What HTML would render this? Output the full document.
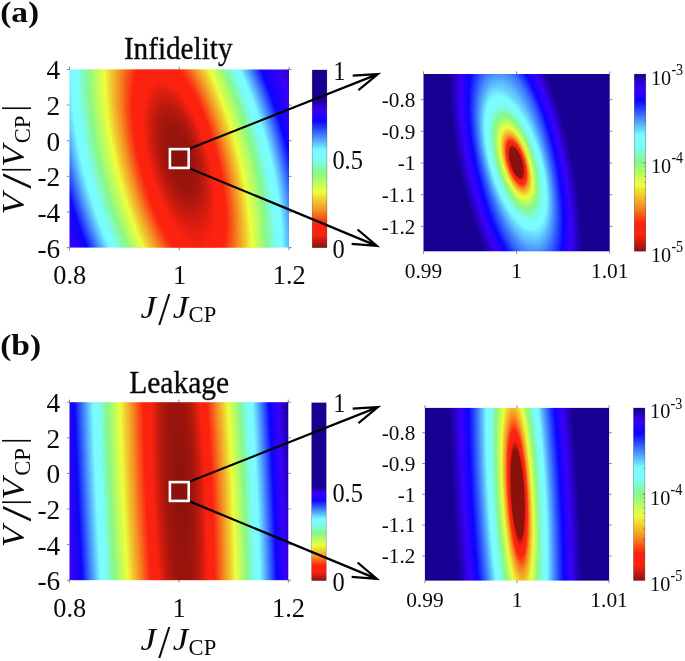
<!DOCTYPE html>
<html lang="en"><head><meta charset="utf-8"><title>Infidelity and leakage</title>
<style>html,body{margin:0;padding:0;background:#fff}body{width:685px;height:661px;overflow:hidden}svg{display:block}text{font-family:"Liberation Serif",serif;fill:#0a0a0a}.t{stroke:#0a0a0a;stroke-width:.35px}</style></head>
<body><svg width="685" height="661" viewBox="0 0 685 661">
<defs>
<radialGradient id="ga" gradientUnits="userSpaceOnUse" cx="-0.0450" cy="0" r="1" fx="0" fy="0" gradientTransform="matrix(200.000 0 97.128 426.000 180.90 163.00)"><stop offset="0.0000" stop-color="#8b120c"/><stop offset="0.0700" stop-color="#9e150d"/><stop offset="0.0946" stop-color="#b1170d"/><stop offset="0.1128" stop-color="#c41a0e"/><stop offset="0.1279" stop-color="#d61d0f"/><stop offset="0.1409" stop-color="#e91f0f"/><stop offset="0.1525" stop-color="#fc2210"/><stop offset="0.1766" stop-color="#fc2210"/><stop offset="0.1975" stop-color="#fc2210"/><stop offset="0.2260" stop-color="#f85819"/><stop offset="0.2514" stop-color="#f58e22"/><stop offset="0.2832" stop-color="#f1c62f"/><stop offset="0.3120" stop-color="#edff3c"/><stop offset="0.3520" stop-color="#bafc62"/><stop offset="0.3892" stop-color="#87f887"/><stop offset="0.4173" stop-color="#80fac3"/><stop offset="0.4442" stop-color="#7afcff"/><stop offset="0.4585" stop-color="#7afcff"/><stop offset="0.4739" stop-color="#7afcff"/><stop offset="0.5025" stop-color="#5cbbfe"/><stop offset="0.5300" stop-color="#3e7afc"/><stop offset="0.5528" stop-color="#2540fe"/><stop offset="0.5750" stop-color="#0c05ff"/><stop offset="0.6189" stop-color="#2302fc"/><stop offset="0.6619" stop-color="#3a00fa"/><stop offset="0.7100" stop-color="#2900c6"/><stop offset="0.7600" stop-color="#170091"/></radialGradient>
<radialGradient id="gai" gradientUnits="userSpaceOnUse" cx="-0.0450" cy="0" r="1" fx="0" fy="0" gradientTransform="matrix(200.000 0 125.400 550.000 180.90 163.00)"><stop offset="0.0000" stop-color="#8b120c"/><stop offset="0.0700" stop-color="#9e150d"/><stop offset="0.0946" stop-color="#b1170d"/><stop offset="0.1128" stop-color="#c41a0e"/><stop offset="0.1279" stop-color="#d61d0f"/><stop offset="0.1409" stop-color="#e91f0f"/><stop offset="0.1525" stop-color="#fc2210"/><stop offset="0.1766" stop-color="#fc2210"/><stop offset="0.1975" stop-color="#fc2210"/><stop offset="0.2260" stop-color="#f85819"/><stop offset="0.2514" stop-color="#f58e22"/><stop offset="0.2832" stop-color="#f1c62f"/><stop offset="0.3120" stop-color="#edff3c"/><stop offset="0.3520" stop-color="#bafc62" stop-opacity="0.727"/><stop offset="0.3892" stop-color="#87f887" stop-opacity="0.473"/><stop offset="0.4173" stop-color="#80fac3" stop-opacity="0.281"/><stop offset="0.4442" stop-color="#7afcff" stop-opacity="0.0976"/><stop offset="0.4585" stop-color="#7afcff" stop-opacity="0"/></radialGradient>
<radialGradient id="gaii" gradientUnits="userSpaceOnUse" cx="-0.0450" cy="0" r="1" fx="0" fy="0" gradientTransform="matrix(200.000 0 111.720 490.000 179.90 158.00)"><stop offset="0.0000" stop-color="#8b120c"/><stop offset="0.0700" stop-color="#9e150d"/><stop offset="0.0946" stop-color="#b1170d"/><stop offset="0.1128" stop-color="#c41a0e" stop-opacity="0.965"/><stop offset="0.1279" stop-color="#d61d0f" stop-opacity="0.777"/><stop offset="0.1409" stop-color="#e91f0f" stop-opacity="0.614"/><stop offset="0.1525" stop-color="#fc2210" stop-opacity="0.469"/><stop offset="0.1766" stop-color="#fc2210" stop-opacity="0.168"/><stop offset="0.1900" stop-color="#fc2210" stop-opacity="0"/></radialGradient>
<radialGradient id="gb" gradientUnits="userSpaceOnUse" cx="-0.0530" cy="0" r="1" fx="0" fy="0" gradientTransform="matrix(200.000 0 79.200 1800.000 180.70 491.00)"><stop offset="0.0000" stop-color="#8b120c"/><stop offset="0.0616" stop-color="#9e150d"/><stop offset="0.0823" stop-color="#b1170d"/><stop offset="0.0974" stop-color="#c41a0e"/><stop offset="0.1098" stop-color="#d61d0f"/><stop offset="0.1205" stop-color="#e91f0f"/><stop offset="0.1300" stop-color="#fc2210"/><stop offset="0.1487" stop-color="#fc2210"/><stop offset="0.1650" stop-color="#fc2210"/><stop offset="0.1921" stop-color="#f85819"/><stop offset="0.2163" stop-color="#f58e22"/><stop offset="0.2466" stop-color="#f1c62f"/><stop offset="0.2740" stop-color="#edff3c"/><stop offset="0.3051" stop-color="#bafc62"/><stop offset="0.3341" stop-color="#87f887"/><stop offset="0.3560" stop-color="#80fac3"/><stop offset="0.3769" stop-color="#7afcff"/><stop offset="0.3880" stop-color="#7afcff"/><stop offset="0.4013" stop-color="#7afcff"/><stop offset="0.4260" stop-color="#5cbbfe"/><stop offset="0.4498" stop-color="#3e7afc"/><stop offset="0.4696" stop-color="#2540fe"/><stop offset="0.4888" stop-color="#0c05ff"/><stop offset="0.5131" stop-color="#2302fc"/><stop offset="0.5370" stop-color="#3a00fa"/><stop offset="0.5638" stop-color="#2900c6"/><stop offset="0.5900" stop-color="#170091"/></radialGradient>
<radialGradient id="gc" gradientUnits="userSpaceOnUse" cx="-0.0400" cy="0" r="1" fx="0" fy="0" gradientTransform="matrix(120.000 0 70.800 354.000 517.70 162.50)"><stop offset="0.0000" stop-color="#8b120c"/><stop offset="0.0479" stop-color="#8b120c"/><stop offset="0.0513" stop-color="#b1170d"/><stop offset="0.0550" stop-color="#d61d0f"/><stop offset="0.0590" stop-color="#fc2210"/><stop offset="0.0622" stop-color="#fc2210"/><stop offset="0.0656" stop-color="#fc2210"/><stop offset="0.0693" stop-color="#fc2210"/><stop offset="0.0742" stop-color="#fa4616"/><stop offset="0.0795" stop-color="#f76a1c"/><stop offset="0.0852" stop-color="#f58e22"/><stop offset="0.0938" stop-color="#f2b42b"/><stop offset="0.1032" stop-color="#f0d933"/><stop offset="0.1136" stop-color="#edff3c"/><stop offset="0.1251" stop-color="#cbfd55"/><stop offset="0.1377" stop-color="#a9fa6e"/><stop offset="0.1515" stop-color="#87f887"/><stop offset="0.1636" stop-color="#83f9af"/><stop offset="0.1767" stop-color="#7efbd7"/><stop offset="0.1908" stop-color="#7afcff"/><stop offset="0.1990" stop-color="#7afcff"/><stop offset="0.2076" stop-color="#7afcff"/><stop offset="0.2165" stop-color="#7afcff"/><stop offset="0.2347" stop-color="#66d1fe"/><stop offset="0.2544" stop-color="#52a5fd"/><stop offset="0.2757" stop-color="#3e7afc"/><stop offset="0.2955" stop-color="#2d53fd"/><stop offset="0.3166" stop-color="#1d2cfe"/><stop offset="0.3392" stop-color="#0c05ff"/><stop offset="0.3579" stop-color="#1b03fd"/><stop offset="0.3777" stop-color="#2b02fc"/><stop offset="0.3986" stop-color="#3a00fa"/><stop offset="0.4238" stop-color="#2e00d7"/><stop offset="0.4506" stop-color="#2300b4"/><stop offset="0.4792" stop-color="#170091"/></radialGradient>
<radialGradient id="gci" gradientUnits="userSpaceOnUse" cx="-0.0400" cy="0" r="1" fx="0" fy="0" gradientTransform="matrix(120.000 0 77.100 308.400 516.60 162.50)"><stop offset="0.0000" stop-color="#8b120c"/><stop offset="0.0479" stop-color="#8b120c"/><stop offset="0.0513" stop-color="#b1170d"/><stop offset="0.0550" stop-color="#d61d0f"/><stop offset="0.0590" stop-color="#fc2210"/><stop offset="0.0622" stop-color="#fc2210"/><stop offset="0.0656" stop-color="#fc2210"/><stop offset="0.0693" stop-color="#fc2210"/><stop offset="0.0742" stop-color="#fa4616"/><stop offset="0.0795" stop-color="#f76a1c"/><stop offset="0.0852" stop-color="#f58e22"/><stop offset="0.0938" stop-color="#f2b42b"/><stop offset="0.1032" stop-color="#f0d933"/><stop offset="0.1136" stop-color="#edff3c"/><stop offset="0.1251" stop-color="#cbfd55"/><stop offset="0.1377" stop-color="#a9fa6e"/><stop offset="0.1515" stop-color="#87f887"/><stop offset="0.1636" stop-color="#83f9af"/><stop offset="0.1767" stop-color="#7efbd7"/><stop offset="0.1908" stop-color="#7afcff"/><stop offset="0.1990" stop-color="#7afcff"/><stop offset="0.2076" stop-color="#7afcff" stop-opacity="0.967"/><stop offset="0.2165" stop-color="#7afcff" stop-opacity="0.899"/><stop offset="0.2347" stop-color="#66d1fe" stop-opacity="0.759"/><stop offset="0.2544" stop-color="#52a5fd" stop-opacity="0.607"/><stop offset="0.2757" stop-color="#3e7afc" stop-opacity="0.443"/><stop offset="0.2955" stop-color="#2d53fd" stop-opacity="0.291"/><stop offset="0.3166" stop-color="#1d2cfe" stop-opacity="0.129"/><stop offset="0.3333" stop-color="#1d2cfe" stop-opacity="0"/></radialGradient>
<radialGradient id="gd" gradientUnits="userSpaceOnUse" cx="-0.0400" cy="0" r="1" fx="0" fy="0" gradientTransform="matrix(120.000 0 45.540 828.000 517.90 493.50)"><stop offset="0.0000" stop-color="#8b120c"/><stop offset="0.0525" stop-color="#8b120c"/><stop offset="0.0563" stop-color="#b1170d"/><stop offset="0.0603" stop-color="#d61d0f"/><stop offset="0.0646" stop-color="#fc2210"/><stop offset="0.0682" stop-color="#fc2210"/><stop offset="0.0719" stop-color="#fc2210"/><stop offset="0.0759" stop-color="#fc2210"/><stop offset="0.0813" stop-color="#fa4616"/><stop offset="0.0871" stop-color="#f76a1c"/><stop offset="0.0934" stop-color="#f58e22"/><stop offset="0.1028" stop-color="#f2b42b"/><stop offset="0.1131" stop-color="#f0d933"/><stop offset="0.1245" stop-color="#edff3c"/><stop offset="0.1370" stop-color="#cbfd55"/><stop offset="0.1508" stop-color="#a9fa6e"/><stop offset="0.1660" stop-color="#87f887"/><stop offset="0.1793" stop-color="#83f9af"/><stop offset="0.1936" stop-color="#7efbd7"/><stop offset="0.2090" stop-color="#7afcff"/><stop offset="0.2180" stop-color="#7afcff"/><stop offset="0.2274" stop-color="#7afcff"/><stop offset="0.2372" stop-color="#7afcff"/><stop offset="0.2571" stop-color="#66d1fe"/><stop offset="0.2787" stop-color="#52a5fd"/><stop offset="0.3021" stop-color="#3e7afc"/><stop offset="0.3237" stop-color="#2d53fd"/><stop offset="0.3469" stop-color="#1d2cfe"/><stop offset="0.3717" stop-color="#0c05ff"/><stop offset="0.3922" stop-color="#1b03fd"/><stop offset="0.4138" stop-color="#2b02fc"/><stop offset="0.4367" stop-color="#3a00fa"/><stop offset="0.4643" stop-color="#2e00d7"/><stop offset="0.4937" stop-color="#2300b4"/><stop offset="0.5250" stop-color="#170091"/></radialGradient>
<linearGradient id="ca" x1="0" y1="0" x2="0" y2="1"><stop offset="0.1630" stop-color="#170091"/><stop offset="0.2300" stop-color="#3a00fa"/><stop offset="0.2886" stop-color="#0c05ff"/><stop offset="0.3639" stop-color="#3e7afc"/><stop offset="0.4518" stop-color="#7afcff"/><stop offset="0.4978" stop-color="#7afcff"/><stop offset="0.5815" stop-color="#87f887"/><stop offset="0.6861" stop-color="#edff3c"/><stop offset="0.7908" stop-color="#f58e22"/><stop offset="0.8661" stop-color="#fc2210"/><stop offset="0.9247" stop-color="#fc2210"/><stop offset="1.0000" stop-color="#8b120c"/></linearGradient>
<linearGradient id="cb" x1="0" y1="0" x2="0" y2="1"><stop offset="0.4700" stop-color="#170091"/><stop offset="0.5124" stop-color="#3a00fa"/><stop offset="0.5495" stop-color="#0c05ff"/><stop offset="0.5972" stop-color="#3e7afc"/><stop offset="0.6528" stop-color="#7afcff"/><stop offset="0.6820" stop-color="#7afcff"/><stop offset="0.7350" stop-color="#87f887"/><stop offset="0.8013" stop-color="#edff3c"/><stop offset="0.8675" stop-color="#f58e22"/><stop offset="0.9152" stop-color="#fc2210"/><stop offset="0.9523" stop-color="#fc2210"/><stop offset="1.0000" stop-color="#8b120c"/></linearGradient>
<linearGradient id="cc" x1="0" y1="0" x2="0" y2="1"><stop offset="0.0000" stop-color="#170091"/><stop offset="0.0800" stop-color="#3a00fa"/><stop offset="0.1500" stop-color="#0c05ff"/><stop offset="0.2400" stop-color="#3e7afc"/><stop offset="0.3450" stop-color="#7afcff"/><stop offset="0.4000" stop-color="#7afcff"/><stop offset="0.5000" stop-color="#87f887"/><stop offset="0.6250" stop-color="#edff3c"/><stop offset="0.7500" stop-color="#f58e22"/><stop offset="0.8400" stop-color="#fc2210"/><stop offset="0.9100" stop-color="#fc2210"/><stop offset="1.0000" stop-color="#8b120c"/></linearGradient>
<linearGradient id="cd" x1="0" y1="0" x2="0" y2="1"><stop offset="0.0000" stop-color="#170091"/><stop offset="0.0800" stop-color="#3a00fa"/><stop offset="0.1500" stop-color="#0c05ff"/><stop offset="0.2400" stop-color="#3e7afc"/><stop offset="0.3450" stop-color="#7afcff"/><stop offset="0.4000" stop-color="#7afcff"/><stop offset="0.5000" stop-color="#87f887"/><stop offset="0.6250" stop-color="#edff3c"/><stop offset="0.7500" stop-color="#f58e22"/><stop offset="0.8400" stop-color="#fc2210"/><stop offset="0.9100" stop-color="#fc2210"/><stop offset="1.0000" stop-color="#8b120c"/></linearGradient>
</defs>
<rect x="69.50" y="69.50" width="219.50" height="178.10" fill="url(#ga)"/>
<rect x="69.50" y="69.50" width="219.50" height="178.10" fill="url(#gai)"/>
<rect x="69.50" y="69.50" width="219.50" height="178.10" fill="url(#gaii)"/>
<rect x="423.50" y="74.00" width="186.20" height="177.30" fill="url(#gc)"/>
<rect x="423.50" y="74.00" width="186.20" height="177.30" fill="url(#gci)"/>
<rect x="69.50" y="402.20" width="218.80" height="178.00" fill="url(#gb)"/>
<rect x="424.90" y="407.90" width="184.20" height="172.70" fill="url(#gd)"/>
<path d="M69.50 247.60v2.60M69.50 69.50v-2.60M179.25 247.60v2.60M179.25 69.50v-2.60M289.00 247.60v2.60M289.00 69.50v-2.60M69.50 69.50h-2.60M289.00 69.50h2.60M69.50 105.12h-2.60M289.00 105.12h2.60M69.50 140.74h-2.60M289.00 140.74h2.60M69.50 176.36h-2.60M289.00 176.36h2.60M69.50 211.98h-2.60M289.00 211.98h2.60M69.50 247.60h-2.60M289.00 247.60h2.60" stroke="#555" stroke-width="0.7" fill="none"/>
<path d="M423.50 251.30v2.60M423.50 74.00v-2.60M516.60 251.30v2.60M516.60 74.00v-2.60M609.70 251.30v2.60M609.70 74.00v-2.60M423.50 99.60h-2.60M609.70 99.60h2.60M423.50 131.30h-2.60M609.70 131.30h2.60M423.50 163.00h-2.60M609.70 163.00h2.60M423.50 194.70h-2.60M609.70 194.70h2.60M423.50 226.40h-2.60M609.70 226.40h2.60" stroke="#555" stroke-width="0.7" fill="none"/>
<path d="M69.50 580.20v2.60M69.50 402.20v-2.60M178.90 580.20v2.60M178.90 402.20v-2.60M288.30 580.20v2.60M288.30 402.20v-2.60M69.50 402.20h-2.60M288.30 402.20h2.60M69.50 437.80h-2.60M288.30 437.80h2.60M69.50 473.40h-2.60M288.30 473.40h2.60M69.50 509.00h-2.60M288.30 509.00h2.60M69.50 544.60h-2.60M288.30 544.60h2.60M69.50 580.20h-2.60M288.30 580.20h2.60" stroke="#555" stroke-width="0.7" fill="none"/>
<path d="M424.90 580.60v2.60M424.90 407.90v-2.60M517.00 580.60v2.60M517.00 407.90v-2.60M609.10 580.60v2.60M609.10 407.90v-2.60M424.90 432.70h-2.60M609.10 432.70h2.60M424.90 463.50h-2.60M609.10 463.50h2.60M424.90 494.30h-2.60M609.10 494.30h2.60M424.90 525.10h-2.60M609.10 525.10h2.60M424.90 555.90h-2.60M609.10 555.90h2.60" stroke="#555" stroke-width="0.7" fill="none"/>
<rect x="312.20" y="70.00" width="14.70" height="177.70" fill="url(#ca)" stroke="#000" stroke-opacity="0.4" stroke-width="0.6"/>
<rect x="311.70" y="402.80" width="14.50" height="177.80" fill="url(#cb)" stroke="#000" stroke-opacity="0.4" stroke-width="0.6"/>
<rect x="634.30" y="74.10" width="11.50" height="177.10" fill="url(#cc)" stroke="#000" stroke-opacity="0.4" stroke-width="0.6"/>
<rect x="633.50" y="408.00" width="11.40" height="172.50" fill="url(#cd)" stroke="#000" stroke-opacity="0.4" stroke-width="0.6"/>
<path d="M645.80 224.54h-1.20M645.80 208.95h-1.20M645.80 197.89h-1.20M645.80 189.31h-1.20M645.80 182.29h-1.20M645.80 176.37h-1.20M645.80 171.23h-1.20M645.80 166.70h-1.20M645.80 162.65h-2.20M645.80 135.99h-1.20M645.80 120.40h-1.20M645.80 109.34h-1.20M645.80 100.76h-1.20M645.80 93.74h-1.20M645.80 87.82h-1.20M645.80 82.68h-1.20M645.80 78.15h-1.20" stroke="#444" stroke-width="0.6" fill="none"/>
<path d="M644.90 554.54h-1.20M644.90 539.35h-1.20M644.90 528.57h-1.20M644.90 520.21h-1.20M644.90 513.38h-1.20M644.90 507.61h-1.20M644.90 502.61h-1.20M644.90 498.20h-1.20M644.90 494.25h-2.20M644.90 468.29h-1.20M644.90 453.10h-1.20M644.90 442.32h-1.20M644.90 433.96h-1.20M644.90 427.13h-1.20M644.90 421.36h-1.20M644.90 416.36h-1.20M644.90 411.95h-1.20" stroke="#444" stroke-width="0.6" fill="none"/>
<path d="M189.20 148.80L377.90 74.10M358.46 90.19L377.90 74.10L352.71 75.68" stroke="#000" stroke-width="2.25" fill="none" stroke-linejoin="miter" stroke-miterlimit="10"/>
<path d="M189.20 168.20L376.80 245.90M351.64 243.92L376.80 245.90L357.61 229.51" stroke="#000" stroke-width="2.25" fill="none" stroke-linejoin="miter" stroke-miterlimit="10"/>
<rect x="169.90" y="149.10" width="18.80" height="18.80" fill="#8b120c" stroke="#fff" stroke-width="2.6"/>
<path d="M189.20 481.80L377.90 407.10M358.46 423.19L377.90 407.10L352.71 408.68" stroke="#000" stroke-width="2.25" fill="none" stroke-linejoin="miter" stroke-miterlimit="10"/>
<path d="M189.20 501.20L376.80 578.90M351.64 576.92L376.80 578.90L357.61 562.51" stroke="#000" stroke-width="2.25" fill="none" stroke-linejoin="miter" stroke-miterlimit="10"/>
<rect x="169.90" y="482.10" width="18.80" height="18.80" fill="#8b120c" stroke="#fff" stroke-width="2.6"/>
<text transform="translate(60.20 79.40) scale(1.040 1)" font-size="26.30" text-anchor="end">4</text>
<text transform="translate(60.20 115.02) scale(1.040 1)" font-size="26.30" text-anchor="end">2</text>
<text transform="translate(60.20 150.64) scale(1.040 1)" font-size="26.30" text-anchor="end">0</text>
<text transform="translate(60.20 186.26) scale(1.040 1)" font-size="26.30" text-anchor="end">-2</text>
<text transform="translate(60.20 221.88) scale(1.040 1)" font-size="26.30" text-anchor="end">-4</text>
<text transform="translate(60.20 257.50) scale(1.040 1)" font-size="26.30" text-anchor="end">-6</text>
<text transform="translate(69.70 284.40) scale(0.940 1)" font-size="28.00" text-anchor="middle">0.8</text>
<text transform="translate(179.45 284.40) scale(0.940 1)" font-size="28.00" text-anchor="middle">1</text>
<text transform="translate(289.20 284.40) scale(0.940 1)" font-size="28.00" text-anchor="middle">1.2</text>
<text transform="translate(333.20 79.60) scale(0.930 1)" font-size="26.30" text-anchor="start">1</text>
<text transform="translate(332.40 169.40) scale(0.930 1)" font-size="26.30" text-anchor="start">0.5</text>
<text transform="translate(332.40 258.00) scale(0.930 1)" font-size="26.30" text-anchor="start">0</text>
<text x="0.00" y="0.00" font-size="31.00" text-anchor="start" style="font-style:italic" transform="translate(140.6 317.50) scale(1.13 1.02)">J</text>
<text x="0.00" y="0.00" font-size="30.00" text-anchor="start" transform="translate(158.3 325.10) scale(1.45 1.53)">/</text>
<text x="0.00" y="0.00" font-size="31.00" text-anchor="start" style="font-style:italic" transform="translate(172.8 317.50) scale(1.13 1.02)">J</text>
<text x="188.60" y="322.30" font-size="22.60" text-anchor="start">CP</text>
<g transform="translate(23.6 213.00) rotate(-90)">
<text x="0.00" y="0.00" font-size="31.00" text-anchor="start" style="font-style:italic" transform="translate(-1.5 0) scale(1.13 1)">V</text>
<text x="0.00" y="0.00" font-size="30.00" text-anchor="start" transform="translate(24.2 7.0) scale(1.85 1.43)">/</text>
<text x="40.10" y="0.10" font-size="32.60" text-anchor="start">|</text>
<text x="47.50" y="0.00" font-size="31.00" text-anchor="start" style="font-style:italic" transform="translate(-7.5 0) scale(1.13 1)">V</text>
<text x="69.80" y="6.30" font-size="22.60" text-anchor="start">CP</text>
<text x="101.60" y="0.10" font-size="32.60" text-anchor="start">|</text>
</g>
<text transform="translate(415.30 106.90) scale(1.040 1)" font-size="20.40" text-anchor="end">-0.8</text>
<text transform="translate(415.30 138.60) scale(1.040 1)" font-size="20.40" text-anchor="end">-0.9</text>
<text transform="translate(415.30 170.30) scale(1.040 1)" font-size="20.40" text-anchor="end">-1</text>
<text transform="translate(415.30 202.00) scale(1.040 1)" font-size="20.40" text-anchor="end">-1.1</text>
<text transform="translate(415.30 233.70) scale(1.040 1)" font-size="20.40" text-anchor="end">-1.2</text>
<text transform="translate(423.50 278.10) scale(1.050 1)" font-size="20.40" text-anchor="middle">0.99</text>
<text transform="translate(516.60 278.10) scale(1.050 1)" font-size="20.40" text-anchor="middle">1</text>
<text transform="translate(609.70 278.10) scale(1.050 1)" font-size="20.40" text-anchor="middle">1.01</text>
<text x="651.00" y="84.50" font-size="20.2">10</text>
<text transform="translate(671.40 74.80) scale(0.900 1)" font-size="15.70" text-anchor="start">-3</text>
<text x="651.00" y="173.05" font-size="20.2">10</text>
<text transform="translate(671.40 163.35) scale(0.900 1)" font-size="15.70" text-anchor="start">-4</text>
<text x="651.00" y="261.60" font-size="20.2">10</text>
<text transform="translate(671.40 251.90) scale(0.900 1)" font-size="15.70" text-anchor="start">-5</text>
<text transform="translate(60.20 412.10) scale(1.040 1)" font-size="26.30" text-anchor="end">4</text>
<text transform="translate(60.20 447.70) scale(1.040 1)" font-size="26.30" text-anchor="end">2</text>
<text transform="translate(60.20 483.30) scale(1.040 1)" font-size="26.30" text-anchor="end">0</text>
<text transform="translate(60.20 518.90) scale(1.040 1)" font-size="26.30" text-anchor="end">-2</text>
<text transform="translate(60.20 554.50) scale(1.040 1)" font-size="26.30" text-anchor="end">-4</text>
<text transform="translate(60.20 590.10) scale(1.040 1)" font-size="26.30" text-anchor="end">-6</text>
<text transform="translate(69.70 617.00) scale(0.940 1)" font-size="28.00" text-anchor="middle">0.8</text>
<text transform="translate(179.10 617.00) scale(0.940 1)" font-size="28.00" text-anchor="middle">1</text>
<text transform="translate(288.50 617.00) scale(0.940 1)" font-size="28.00" text-anchor="middle">1.2</text>
<text transform="translate(333.20 412.40) scale(0.930 1)" font-size="26.30" text-anchor="start">1</text>
<text transform="translate(332.40 502.20) scale(0.930 1)" font-size="26.30" text-anchor="start">0.5</text>
<text transform="translate(332.40 590.90) scale(0.930 1)" font-size="26.30" text-anchor="start">0</text>
<text x="0.00" y="0.00" font-size="31.00" text-anchor="start" style="font-style:italic" transform="translate(140.6 650.15) scale(1.13 1.02)">J</text>
<text x="0.00" y="0.00" font-size="30.00" text-anchor="start" transform="translate(158.3 657.75) scale(1.45 1.53)">/</text>
<text x="0.00" y="0.00" font-size="31.00" text-anchor="start" style="font-style:italic" transform="translate(172.8 650.15) scale(1.13 1.02)">J</text>
<text x="188.60" y="654.95" font-size="22.60" text-anchor="start">CP</text>
<g transform="translate(23.6 545.65) rotate(-90)">
<text x="0.00" y="0.00" font-size="31.00" text-anchor="start" style="font-style:italic" transform="translate(-1.5 0) scale(1.13 1)">V</text>
<text x="0.00" y="0.00" font-size="30.00" text-anchor="start" transform="translate(24.2 7.0) scale(1.85 1.43)">/</text>
<text x="40.10" y="0.10" font-size="32.60" text-anchor="start">|</text>
<text x="47.50" y="0.00" font-size="31.00" text-anchor="start" style="font-style:italic" transform="translate(-7.5 0) scale(1.13 1)">V</text>
<text x="69.80" y="6.30" font-size="22.60" text-anchor="start">CP</text>
<text x="101.60" y="0.10" font-size="32.60" text-anchor="start">|</text>
</g>
<text transform="translate(415.30 440.00) scale(1.040 1)" font-size="20.40" text-anchor="end">-0.8</text>
<text transform="translate(415.30 470.80) scale(1.040 1)" font-size="20.40" text-anchor="end">-0.9</text>
<text transform="translate(415.30 501.60) scale(1.040 1)" font-size="20.40" text-anchor="end">-1</text>
<text transform="translate(415.30 532.40) scale(1.040 1)" font-size="20.40" text-anchor="end">-1.1</text>
<text transform="translate(415.30 563.20) scale(1.040 1)" font-size="20.40" text-anchor="end">-1.2</text>
<text transform="translate(424.90 607.40) scale(1.050 1)" font-size="20.40" text-anchor="middle">0.99</text>
<text transform="translate(517.00 607.40) scale(1.050 1)" font-size="20.40" text-anchor="middle">1</text>
<text transform="translate(609.10 607.40) scale(1.050 1)" font-size="20.40" text-anchor="middle">1.01</text>
<text x="650.10" y="418.40" font-size="20.2">10</text>
<text transform="translate(670.50 408.70) scale(0.900 1)" font-size="15.70" text-anchor="start">-3</text>
<text x="650.10" y="504.65" font-size="20.2">10</text>
<text transform="translate(670.50 494.95) scale(0.900 1)" font-size="15.70" text-anchor="start">-4</text>
<text x="650.10" y="590.90" font-size="20.2">10</text>
<text transform="translate(670.50 581.20) scale(0.900 1)" font-size="15.70" text-anchor="start">-5</text>
<text transform="translate(0.2 22.0) scale(1.17 1)" font-size="28.6" style="font-weight:bold">(a)</text>
<text transform="translate(0.2 354.6) scale(1.17 1)" font-size="28.6" style="font-weight:bold">(b)</text>
<text class="t" transform="translate(178.20 59.20) scale(0.930 1)" font-size="31.40" text-anchor="middle">Infidelity</text>
<text class="t" transform="translate(179.20 392.50) scale(0.940 1)" font-size="31.40" text-anchor="middle">Leakage</text>
</svg></body></html>
